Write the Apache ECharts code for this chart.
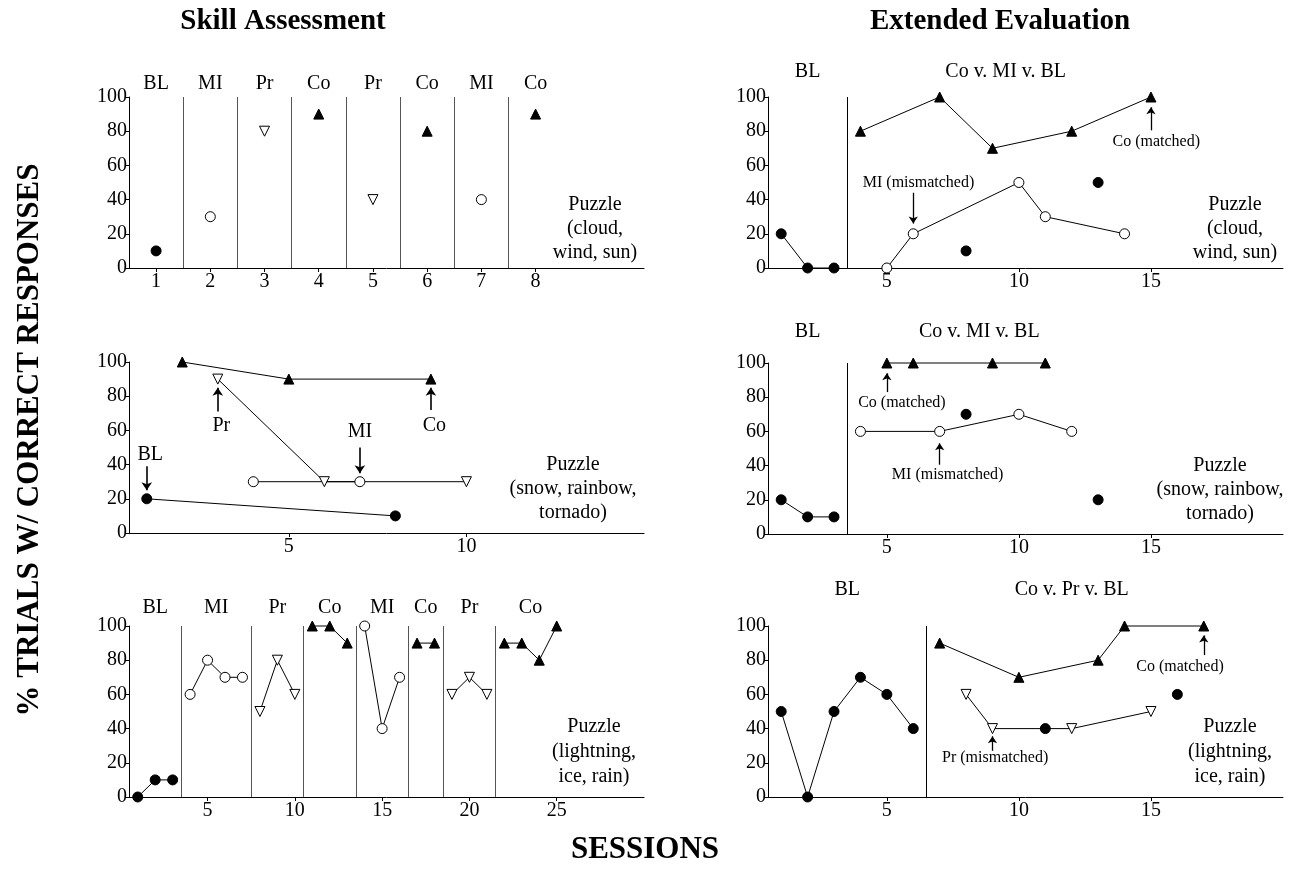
<!DOCTYPE html>
<html>
<head>
<meta charset="utf-8">
<script src="https://cdn.jsdelivr.net/npm/echarts@6/dist/echarts.min.js"></script>
<style>html,body{margin:0;padding:0;background:#fff}#c{width:1291px;height:884px}</style>
</head>
<body>
<div id="c"></div>
<script>
// ---------- DATA ----------
// Skill Assessment – Puzzle (cloud, wind, sun): one session per phase
const saCloudSessions = [1, 2, 3, 4, 5, 6, 7, 8];
const saCloudValues   = [10, 30, 80, 90, 40, 80, 40, 90];
const saCloudConds    = ['BL', 'MI', 'Pr', 'Co', 'Pr', 'Co', 'MI', 'Co'];
const saCloudBreaks   = [1.5, 2.5, 3.5, 4.5, 5.5, 6.5, 7.5];
const saCloudTicks    = [1, 2, 3, 4, 5, 6, 7, 8];

// Skill Assessment – Puzzle (snow, rainbow, tornado): alternating treatments
const saSnowBLSessions = [1, 8];        const saSnowBLValues = [20, 10];
const saSnowCoSessions = [2, 5, 9];     const saSnowCoValues = [100, 90, 90];
const saSnowPrSessions = [3, 6, 10];    const saSnowPrValues = [90, 30, 30];
const saSnowMISessions = [4, 7];        const saSnowMIValues = [30, 30];
const saSnowTicks = [5, 10];
// [text, textX, textY, arrowX, arrowFrom, arrowTo]
const saSnowNotes = [
  ['BL', 1.1, 46, 1, 39, 25],
  ['Pr', 3.1, 63, 3, 71, 85],
  ['MI', 7.0, 59.5, 7, 50, 35],
  ['Co', 9.1, 63, 9, 72, 85]
];

// Skill Assessment – Puzzle (lightning, ice, rain)
const saLightSessions = [1,2,3,4,5,6,7,8,9,10,11,12,13,14,15,16,17,18,19,20,21,22,23,24,25];
const saLightValues   = [0,10,10,60,80,70,70,50,80,60,100,100,90,100,40,70,90,90,60,70,60,90,90,80,100];
const saLightConds    = ['BL','BL','BL','MI','MI','MI','MI','Pr','Pr','Pr','Co','Co','Co','MI','MI','MI','Co','Co','Pr','Pr','Pr','Co','Co','Co','Co'];
const saLightBreaks   = [3.5, 7.5, 10.5, 13.5, 16.5, 18.5, 21.5];
const saLightTicks    = [5, 10, 15, 20, 25];

// Extended Evaluation – Puzzle (cloud, wind, sun)
const eeCloudBLSessions = [1, 2, 3];            const eeCloudBLValues = [20, 0, 0];
const eeCloudCoSessions = [4, 7, 9, 12, 15];    const eeCloudCoValues = [80, 100, 70, 80, 100];
const eeCloudMISessions = [5, 6, 10, 11, 14];   const eeCloudMIValues = [0, 20, 50, 30, 20];
const eeCloudProbeSessions = [8, 13];           const eeCloudProbeValues = [10, 50];
const eeCloudNotes = [
  ['Co (matched)', 15.2, 73.7, 15, 80.5, 94],
  ['MI (mismatched)', 6.2, 49.7, 6, 44, 26]
];

// Extended Evaluation – Puzzle (snow, rainbow, tornado)
const eeSnowBLSessions = [1, 2, 3];             const eeSnowBLValues = [20, 10, 10];
const eeSnowCoSessions = [5, 6, 9, 11];         const eeSnowCoValues = [100, 100, 100, 100];
const eeSnowMISessions = [4, 7, 10, 12];        const eeSnowMIValues = [60, 60, 70, 60];
const eeSnowProbeSessions = [8, 13];            const eeSnowProbeValues = [70, 20];
const eeSnowNotes = [
  ['Co (matched)', 5.57, 76.6, 5, 83, 94],
  ['MI (mismatched)', 7.3, 34.5, 7, 40.5, 53]
];

// Extended Evaluation – Puzzle (lightning, ice, rain)
const eeLightBLSessions = [1, 2, 3, 4, 5, 6];   const eeLightBLValues = [50, 0, 50, 70, 60, 40];
const eeLightCoSessions = [7, 10, 13, 14, 17];  const eeLightCoValues = [90, 70, 80, 100, 100];
const eeLightPrSessions = [8, 9, 12, 15];       const eeLightPrValues = [60, 40, 40, 50];
const eeLightProbeSessions = [11, 16];          const eeLightProbeValues = [40, 60];
const eeLightNotes = [
  ['Co (matched)', 16.1, 76, 17, 83, 94.5],
  ['Pr (mismatched)', 9.1, 22.8, 9, 27, 35.5]
];

const eeTicks = [5, 10, 15];
const yTicksInterval = 20;

// ---------- LAYOUT / STYLE ----------
const FONT = '"Liberation Serif","Times New Roman",serif';
const condStyle = {
  BL: { symbol: 'circle',   fill: '#000', rotate: 0 },
  MI: { symbol: 'circle',   fill: '#fff', rotate: 0 },
  Pr: { symbol: 'triangle', fill: '#fff', rotate: 180 },
  Co: { symbol: 'triangle', fill: '#000', rotate: 0 }
};

const grids = [
  { left: 129, top: 97,  width: 515, height: 171 },
  { left: 129, top: 362, width: 515, height: 171 },
  { left: 129, top: 626, width: 515, height: 171 },
  { left: 768, top: 97,  width: 515, height: 171 },
  { left: 768, top: 363, width: 515, height: 171 },
  { left: 768, top: 626, width: 515, height: 171 }
];
const xRanges = [[0.5, 10], [0.5, 15], [0.5, 30], [0.5, 20], [0.5, 20], [0.5, 20]];
const xTicks = [saCloudTicks, saSnowTicks, saLightTicks, eeTicks, eeTicks, eeTicks];

const series = [];
const pairs = (xs, ys) => xs.map((x, k) => [x, ys[k]]);
const labelBase = { show: true, position: 'inside', fontFamily: FONT, color: '#000',
                    textBorderWidth: 0, textBorderColor: 'transparent', textShadowBlur: 0, opacity: 1 };

function addLine(g, xs, ys) {
  if (xs.length < 2) return;
  series.push({
    type: 'line', xAxisIndex: g, yAxisIndex: g, data: pairs(xs, ys),
    showSymbol: false, symbol: 'none', clip: false, silent: true, z: 3,
    lineStyle: { color: '#000', width: 1 }
  });
}
function addPoints(g, cond, xs, ys) {
  const st = condStyle[cond];
  series.push({
    type: 'scatter', xAxisIndex: g, yAxisIndex: g, data: pairs(xs, ys),
    symbol: st.symbol, symbolRotate: st.rotate, symbolSize: 10, clip: false, silent: true, z: 5,
    itemStyle: { color: st.fill, borderColor: '#000', borderWidth: 1, opacity: 1 }
  });
}
function addPhaseInfo(g, breaks, labels, lineColor) {
  series.push({
    type: 'scatter', xAxisIndex: g, yAxisIndex: g, data: labels.map(l => [l[1], l[2], l[0]]),
    symbolSize: 1, clip: false, silent: true, z: 6,
    itemStyle: { color: '#fff', opacity: 0 },
    label: Object.assign({}, labelBase, { formatter: p => p.data[2], fontSize: 20 }),
    markLine: {
      silent: true, symbol: ['none', 'none'], label: { show: false },
      lineStyle: { color: lineColor, width: 1, type: 'solid' },
      data: breaks.map(b => ({ xAxis: b }))
    }
  });
}
function addNotes(g, notes, fontSize, arrowSize, arrowWidth) {
  series.push({
    type: 'scatter', xAxisIndex: g, yAxisIndex: g, data: notes.map(n => [n[1], n[2], n[0]]),
    symbolSize: 1, clip: false, silent: true, z: 6,
    itemStyle: { color: '#fff', opacity: 0 },
    label: Object.assign({}, labelBase, { formatter: p => p.data[2], fontSize: fontSize }),
    markLine: {
      silent: true, symbol: ['none', 'arrow'], symbolSize: arrowSize, label: { show: false },
      lineStyle: { color: '#000', width: arrowWidth, type: 'solid' },
      data: notes.map(n => [{ coord: [n[3], n[4]] }, { coord: [n[3], n[5]] }])
    }
  });
}
// phases: runs of sessions separated by breaks
function phaseRuns(sessions, conds, breaks) {
  const runs = [];
  sessions.forEach((s, k) => {
    const idx = breaks.filter(b => b < s).length;
    if (!runs[idx]) runs[idx] = { xs: [], ks: [], cond: conds[k] };
    runs[idx].xs.push(s); runs[idx].ks.push(k);
  });
  return runs;
}

// Panel 0: SA cloud
(function () {
  const runs = phaseRuns(saCloudSessions, saCloudConds, saCloudBreaks);
  runs.forEach(r => addPoints(0, r.cond, r.xs, r.ks.map(k => saCloudValues[k])));
  addPhaseInfo(0, saCloudBreaks, runs.map(r => [r.cond, (r.xs[0] + r.xs[r.xs.length - 1]) / 2, 108]), '#555');
})();

// Panel 1: SA snow
addLine(1, saSnowBLSessions, saSnowBLValues);
addLine(1, saSnowCoSessions, saSnowCoValues);
addLine(1, saSnowPrSessions, saSnowPrValues);
addLine(1, saSnowMISessions, saSnowMIValues);
addPoints(1, 'BL', saSnowBLSessions, saSnowBLValues);
addPoints(1, 'Co', saSnowCoSessions, saSnowCoValues);
addPoints(1, 'Pr', saSnowPrSessions, saSnowPrValues);
addPoints(1, 'MI', saSnowMISessions, saSnowMIValues);
addNotes(1, saSnowNotes, 20, 8, 1.6);

// Panel 2: SA lightning
(function () {
  const runs = phaseRuns(saLightSessions, saLightConds, saLightBreaks);
  runs.forEach(r => addLine(2, r.xs, r.ks.map(k => saLightValues[k])));
  runs.forEach(r => addPoints(2, r.cond, r.xs, r.ks.map(k => saLightValues[k])));
  addPhaseInfo(2, saLightBreaks, runs.map(r => [r.cond, (r.xs[0] + r.xs[r.xs.length - 1]) / 2, 110.5]), '#555');
})();

// Panels 3-5: Extended Evaluation
function eePanel(g, bl, tr, probe, notes, trLabel, labelY) {
  addLine(g, bl[0], bl[1]);
  tr.forEach(t => addLine(g, t[1], t[2]));
  addPoints(g, 'BL', bl[0], bl[1]);
  tr.forEach(t => addPoints(g, t[0], t[1], t[2]));
  addPoints(g, 'BL', probe[0], probe[1]);
  const all = [].concat(...tr.map(t => t[1]), probe[0]);
  const tMin = Math.min(...all), tMax = Math.max(...all);
  const bMin = Math.min(...bl[0]), bMax = Math.max(...bl[0]);
  const brk = (bMax + tMin) / 2;
  addPhaseInfo(g, [brk], [['BL', (bMin + bMax) / 2, labelY], [trLabel, (tMin + tMax) / 2, labelY]], '#000');
  addNotes(g, notes, 16, 7, 1.3);
}
eePanel(3, [eeCloudBLSessions, eeCloudBLValues],
  [['Co', eeCloudCoSessions, eeCloudCoValues], ['MI', eeCloudMISessions, eeCloudMIValues]],
  [eeCloudProbeSessions, eeCloudProbeValues], eeCloudNotes, 'Co v. MI v. BL', 114.6);
eePanel(4, [eeSnowBLSessions, eeSnowBLValues],
  [['Co', eeSnowCoSessions, eeSnowCoValues], ['MI', eeSnowMISessions, eeSnowMIValues]],
  [eeSnowProbeSessions, eeSnowProbeValues], eeSnowNotes, 'Co v. MI v. BL', 118);
eePanel(5, [eeLightBLSessions, eeLightBLValues],
  [['Co', eeLightCoSessions, eeLightCoValues], ['Pr', eeLightPrSessions, eeLightPrValues]],
  [eeLightProbeSessions, eeLightProbeValues], eeLightNotes, 'Co v. Pr v. BL', 121);

const xAxes = grids.map((_, i) => ({
  gridIndex: i, type: 'value', min: xRanges[i][0], max: xRanges[i][1],
  axisLine: { show: true, onZero: false, lineStyle: { color: '#000', width: 1 } },
  axisTick: { show: true, length: 4, customValues: xTicks[i], lineStyle: { color: '#000' } },
  axisLabel: { customValues: xTicks[i], fontFamily: FONT, fontSize: 20, color: '#000', margin: 4 },
  splitLine: { show: false }
}));
const yAxes = grids.map((_, i) => ({
  gridIndex: i, type: 'value', min: 0, max: 100, interval: yTicksInterval,
  axisLine: { show: true, lineStyle: { color: '#000', width: 1 } },
  axisTick: { show: true, length: 4, lineStyle: { color: '#000' } },
  axisLabel: { fontFamily: FONT, fontSize: 20, color: '#000', margin: 2 },
  splitLine: { show: false }
}));

const txt = (x, y, text, size, bold, lh) => ({
  type: 'text', x: x, y: y, silent: true,
  style: { text: text, font: (bold ? 'bold ' : '') + size + 'px ' + FONT, fill: '#000',
           align: 'center', verticalAlign: 'middle', lineHeight: lh || size }
});
const graphics = [
  txt(283, 22, 'Skill Assessment', 29, true),
  txt(1000, 22, 'Extended Evaluation', 29, true),
  txt(645, 850, 'SESSIONS', 31, true),
  Object.assign(txt(30, 440, '% TRIALS W/ CORRECT RESPONSES', 31, true), { rotation: Math.PI / 2 }),
  txt(595, 229, 'Puzzle\n(cloud,\nwind, sun)', 20, false, 24),
  txt(573, 489, 'Puzzle\n(snow, rainbow,\ntornado)', 20, false, 24),
  txt(594, 752, 'Puzzle\n(lightning,\nice, rain)', 20, false, 25),
  txt(1235, 229, 'Puzzle\n(cloud,\nwind, sun)', 20, false, 24),
  txt(1220, 490, 'Puzzle\n(snow, rainbow,\ntornado)', 20, false, 24),
  txt(1230, 752, 'Puzzle\n(lightning,\nice, rain)', 20, false, 25)
];

const chart = echarts.init(document.getElementById('c'), null, { renderer: 'canvas' });
chart.setOption({
  backgroundColor: '#fff',
  animation: false,
  grid: grids,
  xAxis: xAxes,
  yAxis: yAxes,
  series: series,
  graphic: graphics
});
</script>
</body>
</html>
